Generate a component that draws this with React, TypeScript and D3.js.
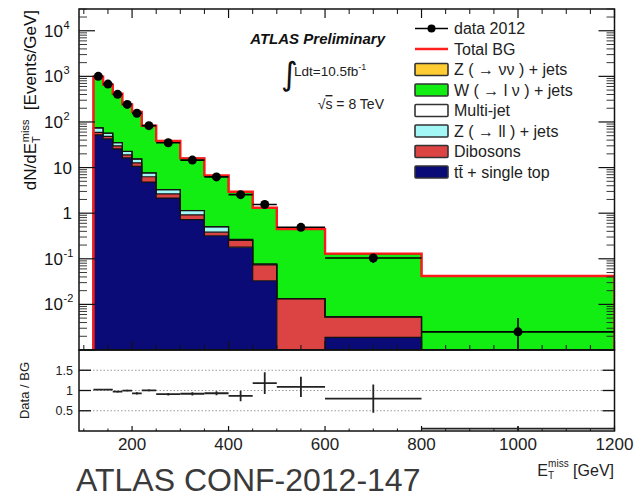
import React from 'react';
import * as d3 from 'd3';

// ---------- data ----------
const binEdges = [120, 140, 160, 180, 200, 220, 250, 300, 350, 400, 450, 500, 600, 800, 1200];
const dataVals = [1000, 676, 403, 243, 155, 83, 35, 14.6, 6.25, 2.55, 1.55, 0.49, 0.104, 0.0025];
const dataErr = [7, 6, 4.5, 3.5, 2.8, 1.7, 0.84, 0.54, 0.35, 0.23, 0.18, 0.07, 0.023, 0.0025];
const ratioErr = [0.01, 0.01, 0.02, 0.02, 0.03, 0.02, 0.03, 0.04, 0.05, 0.13, 0.27, 0.25, 0.35, 0.06];

const ttbar = [52, 42.6, 25.7, 16.4, 10.6, 4.8, 2.14, 0.72, 0.32, 0.18, 0.033, 0, 0.0019, 0];
const diboson = [7, 5.6, 4.2, 2.6, 2.1, 1.5, 0.5, 0.2, 0.063, 0.072, 0.04, 0.0134, 0.0034, 0];
const zll = [15, 8.4, 5.4, 3.5, 2.7, 1.3, 0.63, 0.22, 0.12, 0.013, 0.003, 0, 0, 0];
const multijet = [0.3, 0.2, 0.12, 0.08, 0.06, 0.03, 0.01, 0.004, 0.002, 0.0006, 0.0002, 0, 0, 0];
const wjets = [903, 602, 379, 220, 151, 75, 35.1, 14.7, 6.18, 2.67, 1.23, 0.435, 0.124, 0.0416];
const znunu = [2, 1.5, 1, 0.6, 0.4, 0.2, 0.1, 0.04, 0.02, 0.01, 0.005, 0.002, 0.0007, 0.0004];

const stackKeys = ['ttbar', 'diboson', 'zll', 'multijet', 'wjets', 'znunu'];
const stackColors = ['#0b0b78', '#dc4343', '#a3f7f7', '#ffffff', '#12ee12', '#ffcc33'];

const xMajorTicks = [200, 400, 600, 800, 1000, 1200];
const xMinorTicks = [100, 150, 250, 300, 350, 450, 500, 550, 650, 700, 750, 850, 900, 950, 1050, 1100, 1150];
const yLabelVals = [1e4, 1e3, 1e2, 10, 1, 0.1, 0.01];
const yLabelBase = ['10', '10', '10', '10', '1', '10', '10'];
const yLabelExp = ['4', '3', '2', '', '', '-1', '-2'];
const ratioTicks = [0.5, 1, 1.5];
const ratioLabels = ['0.5', '1', '1.5'];

const legendNames = ['data 2012', 'Total BG', 'Z ( \u2192 \u03bd\u03bd ) + jets', 'W ( \u2192 l \u03bd ) + jets', 'Multi-jet', 'Z ( \u2192 ll ) + jets', 'Dibosons', 't\u0074\u0304 + single top'];
const legendKinds = ['data', 'line', 'box', 'box', 'box', 'box', 'box', 'box'];
const legendColors = ['#000', '#ff2020', '#ffcc33', '#12ee12', '#ffffff', '#a3f7f7', '#dc4343', '#0b0b78'];

const FONT = "'Liberation Sans', Arial, Helvetica, sans-serif";

export default function App() {
  const left = 79, right = 614.5, top = 9, mainBottom = 350, ratioBottom = 431;
  const x = d3.scaleLinear().domain([90, 1200]).range([left, right]);
  const y = d3.scaleLog().domain([1e-3, 3e4]).range([mainBottom, top]).clamp(true);
  const yc = (v: number) => y(Math.max(v, 1e-6));
  const yr = d3.scaleLinear().domain([0, 2]).range([ratioBottom, mainBottom]);

  const nb = binEdges.length - 1;
  const rows = d3.range(nb).map(i => ({
    ttbar: ttbar[i], diboson: diboson[i], zll: zll[i], multijet: multijet[i], wjets: wjets[i], znunu: znunu[i],
  }));
  const series = d3.stack<any>().keys(stackKeys)(rows);
  const totals = rows.map((r: any) => stackKeys.reduce((s, k) => s + r[k], 0));

  const area = d3.area<{ e: number; lo: number; hi: number }>()
    .x(d => x(d.e)).y0(d => yc(d.lo)).y1(d => yc(d.hi)).curve(d3.curveStepAfter);
  const line = d3.line<{ e: number; v: number }>().x(d => x(d.e)).y(d => yc(d.v)).curve(d3.curveStepAfter);

  const stepPts = (vals: number[]) => {
    const pts = [{ e: binEdges[0], v: 1e-6 }];
    binEdges.forEach((e, i) => pts.push({ e, v: vals[Math.min(i, nb - 1)] }));
    pts.push({ e: binEdges[nb], v: 1e-6 });
    return pts;
  };

  const yMinor: number[] = [];
  for (let d = -3; d <= 4; d++) for (let k = 2; k <= 9; k++) { const v = k * Math.pow(10, d); if (v <= 3e4) yMinor.push(v); }
  const yMajor = [1e-3, 1e-2, 1e-1, 1, 10, 100, 1e3, 1e4];

  const ratios = dataVals.map((d, i) => d / totals[i]);

  return (
    <svg width={638} height={497} style={{ position: 'absolute', left: 0, top: 0, background: '#fff' }} fontFamily={FONT}>
      <defs>
        <clipPath id="mainClip"><rect x={left} y={top} width={right - left} height={mainBottom - top} /></clipPath>
        <clipPath id="ratioClip"><rect x={left} y={mainBottom} width={right - left} height={ratioBottom - mainBottom} /></clipPath>
      </defs>
      <rect x={0} y={0} width={638} height={497} fill="#fff" />
      <g clipPath="url(#mainClip)">
        {series.map((s, si) => {
          const pts = binEdges.map((e, i) => { const b = s[Math.min(i, nb - 1)]; return { e, lo: b[0], hi: b[1] }; });
          return <path key={'a' + si} d={area(pts) || ''} fill={stackColors[si]} stroke="none" />;
        })}
        {series.map((s, si) => (
          <path key={'o' + si} d={line(stepPts(s.map(b => b[1]))) || ''} fill="none" stroke="#111" strokeWidth={1.2} />
        ))}
        <path d={line(stepPts(totals)) || ''} fill="none" stroke="#ff1a1a" strokeWidth={2.4} />
        {dataVals.map((d, i) => {
          const cx = x((binEdges[i] + binEdges[i + 1]) / 2);
          return (
            <g key={'d' + i}>
              <line x1={x(binEdges[i])} x2={x(binEdges[i + 1])} y1={yc(d)} y2={yc(d)} stroke="#000" strokeWidth={1.6} />
              <line x1={cx} x2={cx} y1={yc(d + dataErr[i])} y2={yc(d - dataErr[i])} stroke="#000" strokeWidth={1.6} />
              <circle cx={cx} cy={yc(d)} r={4.5} fill="#000" />
            </g>
          );
        })}
      </g>

      {/* main frame and ticks */}
      <rect x={left} y={top} width={right - left} height={mainBottom - top} fill="none" stroke="#111" strokeWidth={1.5} />
      {xMajorTicks.map(t => (
        <g key={'xm' + t} stroke="#111" strokeWidth={1.2}>
          <line x1={x(t)} x2={x(t)} y1={top} y2={top + 9} />
          <line x1={x(t)} x2={x(t)} y1={mainBottom} y2={mainBottom - 9} />
          <line x1={x(t)} x2={x(t)} y1={ratioBottom} y2={ratioBottom - 5} />
        </g>
      ))}
      {xMinorTicks.map(t => (
        <g key={'xn' + t} stroke="#111" strokeWidth={1}>
          <line x1={x(t)} x2={x(t)} y1={top} y2={top + 5} />
          <line x1={x(t)} x2={x(t)} y1={mainBottom} y2={mainBottom - 5} />
          <line x1={x(t)} x2={x(t)} y1={ratioBottom} y2={ratioBottom - 2.5} />
        </g>
      ))}
      {yMajor.map(v => (
        <g key={'ym' + v} stroke="#111" strokeWidth={1.2}>
          <line x1={left} x2={left + 16} y1={y(v)} y2={y(v)} />
          <line x1={right} x2={right - 16} y1={y(v)} y2={y(v)} />
        </g>
      ))}
      {yMinor.map(v => (
        <g key={'yn' + v} stroke="#222" strokeWidth={0.9}>
          <line x1={left} x2={left + 8} y1={y(v)} y2={y(v)} />
          <line x1={right} x2={right - 8} y1={y(v)} y2={y(v)} />
        </g>
      ))}
      {yLabelVals.map((v, i) => (
        <text key={'yl' + i} x={yLabelExp[i] ? 63 : 72} y={y(v) + 6} textAnchor="end" fontSize={17} fill="#111">
          {yLabelBase[i]}
        </text>
      ))}
      {yLabelVals.map((v, i) => yLabelExp[i] ? (
        <text key={'ye' + i} x={63.5} y={y(v) - 2} textAnchor="start" fontSize={11} fill="#111">{yLabelExp[i]}</text>
      ) : null)}

      {/* y title */}
      <text transform="translate(36,10) rotate(-90)" textAnchor="end" fontSize={17} fill="#111">
        <tspan>dN/dE</tspan>
        <tspan fontSize={11} dy={4}>T</tspan>
        <tspan fontSize={11} dx={-6} dy={-11}>miss</tspan>
        <tspan dy={7}>{'\u00a0 [Events/GeV]'}</tspan>
      </text>

      {/* ATLAS labels */}
      <text x={385} y={44} textAnchor="end" fontSize={15} fontWeight="bold" fontStyle="italic" fill="#111">ATLAS Preliminary</text>
      <text x={281} y={85} fontSize={32} fill="#111" fontFamily="'DejaVu Sans', sans-serif">{'\u222b'}</text>
      <text x={294} y={76} fontSize={13.5} fill="#222">Ldt=10.5fb<tspan fontSize={9} dy={-6}>-1</tspan></text>
      <text x={384} y={109} textAnchor="end" fontSize={14} fill="#222">
        {'\u221a'}<tspan textDecoration="overline">s</tspan>{' = 8 TeV'}
      </text>

      {/* legend */}
      {legendNames.map((name, i) => {
        const cy = 28.5 + i * 20.5;
        const kind = legendKinds[i];
        return (
          <g key={'lg' + i}>
            {kind === 'data' && (
              <g>
                <line x1={415} x2={448} y1={cy} y2={cy} stroke="#000" strokeWidth={1.5} />
                <circle cx={431.5} cy={cy} r={4} fill="#000" />
              </g>
            )}
            {kind === 'line' && <line x1={415} x2={448} y1={cy} y2={cy} stroke={legendColors[i]} strokeWidth={2.5} />}
            {kind === 'box' && (
              <rect x={415} y={cy - 6} width={33} height={12} fill={legendColors[i]} stroke="#333" strokeWidth={1.6} rx={1} />
            )}
            <text x={454} y={cy + 5.5} fontSize={16} fill="#222">{name}</text>
          </g>
        );
      })}

      {/* ratio panel */}
      {ratioTicks.map(t => (
        <line key={'rg' + t} x1={left} x2={right} y1={yr(t)} y2={yr(t)} stroke="#999" strokeWidth={1} strokeDasharray="1.5,2" />
      ))}
      <g clipPath="url(#ratioClip)">
        {ratios.map((r, i) => {
          const cx = x((binEdges[i] + binEdges[i + 1]) / 2);
          return (
            <g key={'r' + i} stroke="#222" strokeWidth={1.8}>
              <line x1={x(binEdges[i])} x2={x(binEdges[i + 1])} y1={yr(r)} y2={yr(r)} />
              <line x1={cx} x2={cx} y1={yr(r + ratioErr[i])} y2={yr(Math.max(r - ratioErr[i], 0))} />
            </g>
          );
        })}
      </g>
      <rect x={left} y={mainBottom} width={right - left} height={ratioBottom - mainBottom} fill="none" stroke="#111" strokeWidth={1.5} />
      {ratioTicks.map((t, i) => (
        <g key={'rt' + t}>
          <line x1={left} x2={left + 12} y1={yr(t)} y2={yr(t)} stroke="#111" strokeWidth={1.3} />
          <line x1={right} x2={right - 12} y1={yr(t)} y2={yr(t)} stroke="#111" strokeWidth={1.3} />
          <text x={73} y={yr(t) + 4.5} textAnchor="end" fontSize={12.5} fill="#222">{ratioLabels[i]}</text>
        </g>
      ))}
      <text transform={`translate(29,${yr(1)}) rotate(-90)`} textAnchor="middle" fontSize={13} fill="#222">Data / BG</text>

      {/* x labels */}
      {xMajorTicks.map(t => (
        <text key={'xl' + t} x={x(t)} y={450} textAnchor="middle" fontSize={17} fill="#222">{t}</text>
      ))}
      <text x={614} y={476} textAnchor="end" fontSize={16} fill="#222">
        <tspan>E</tspan>
        <tspan fontSize={10} dy={3}>T</tspan>
        <tspan fontSize={10} dx={-6} dy={-12}>miss</tspan>
        <tspan dy={9}>{'\u00a0[GeV]'}</tspan>
      </text>
      <text x={76} y={491} fontSize={32} fill="#3a3a3a" fontWeight={300}>ATLAS CONF-2012-147</text>
    </svg>
  );
}
